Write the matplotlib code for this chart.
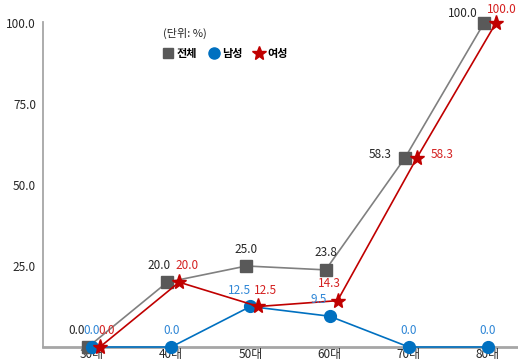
import matplotlib
matplotlib.use("Agg")
import matplotlib.pyplot as plt
import numpy as np
from matplotlib.lines import Line2D

plt.rcParams['font.family'] = ['Noto Sans CJK KR', 'DejaVu Sans']

categories = ['30대', '40대', '50대', '60대', '70대', '80대']
total = [0.0, 20.0, 25.0, 23.8, 58.3, 100.0]
male = [0.0, 0.0, 12.5, 9.5, 0.0, 0.0]
female = [0.0, 20.0, 12.5, 14.3, 58.3, 100.0]
yticks = [25, 50, 75, 100]
ytick_labels = ['25.0', '50.0', '75.0', '100.0']

fig = plt.figure(figsize=(5.18, 3.64), dpi=100)
ax = fig.add_axes([43/518, 1-347/364, 1-43/518, 325/364])

x = np.arange(len(categories))
off_t, off_m, off_f = -0.05, 0.0, 0.10

ax.plot(x + off_t, total, color='#808080', lw=1.2, marker='s', ms=8,
        mfc='#595959', mec='#595959', zorder=3, clip_on=False)
ax.plot(x + off_m, male, color='#0070C0', lw=1.2, marker='o', ms=8.5,
        mfc='#0070C0', mec='#0070C0', zorder=4, clip_on=False)
ax.plot(x + off_f, female, color='#C00000', lw=1.2, marker='*', ms=11,
        mfc='#C00000', mec='#C00000', zorder=5, clip_on=False)

# label offsets in points (dx, dy)
t_off = [(-8, 7), (-6, 7), (0, 7), (0, 8), (-18, -2), (-15, 2)]
m_off = [(0, 7), (0, 7), (-8, 7), (-8, 7), (0, 7), (0, 7)]
f_off = [(5, 7), (6, 7), (5, 7), (-6, 8), (18, -2), (4, 5)]

for i in range(len(categories)):
    ax.annotate(f'{total[i]:.1f}', (x[i] + off_t, total[i]), xytext=t_off[i],
                textcoords='offset points', ha='center', va='bottom',
                fontsize=8.5, color='#262626', zorder=6, annotation_clip=False)
    ax.annotate(f'{male[i]:.1f}', (x[i] + off_m, male[i]), xytext=m_off[i],
                textcoords='offset points', ha='center', va='bottom',
                fontsize=8.5, color='#2E86D6', zorder=6, annotation_clip=False)
    ax.annotate(f'{female[i]:.1f}', (x[i] + off_f, female[i]), xytext=f_off[i],
                textcoords='offset points', ha='center', va='bottom',
                fontsize=8.5, color='#D42020', zorder=6, annotation_clip=False)

ax.set_xlim(-49/79.2, 5 + 30/79.2)
ax.set_ylim(0, 100.3)
ax.set_xticks(x)
ax.set_xticklabels(categories, fontsize=8.5, color='#262626')
ax.set_yticks(yticks)
ax.set_yticklabels(ytick_labels, fontsize=8.5, color='#262626')
ax.tick_params(axis='x', length=0, pad=1)
ax.tick_params(axis='y', length=0, pad=5)

for s in ['top', 'right']:
    ax.spines[s].set_visible(False)
ax.spines['left'].set_color('#A6A6A6')
ax.spines['left'].set_linewidth(1.3)
ax.spines['bottom'].set_color('#A6A6A6')
ax.spines['bottom'].set_linewidth(2.0)
ax.spines['bottom'].set_zorder(1)

# legend
fig.text(163/518, 1-33/364, '(단위: %)', fontsize=8, color='#262626', va='center')
handles = [Line2D([], [], ls='none', marker='s', ms=7, color='#595959'),
           Line2D([], [], ls='none', marker='o', ms=8, color='#0070C0'),
           Line2D([], [], ls='none', marker='*', ms=10, color='#C00000')]
fig.legend(handles, ['전체', '남성', '여성'], loc='center left',
           bbox_to_anchor=(158/518, 1-53/364), ncol=3, frameon=False,
           prop={'size': 8, 'weight': 'bold'}, handlelength=0.8,
           handletextpad=0.35, columnspacing=1.1, borderpad=0)

fig.savefig('out.png', dpi=100)
